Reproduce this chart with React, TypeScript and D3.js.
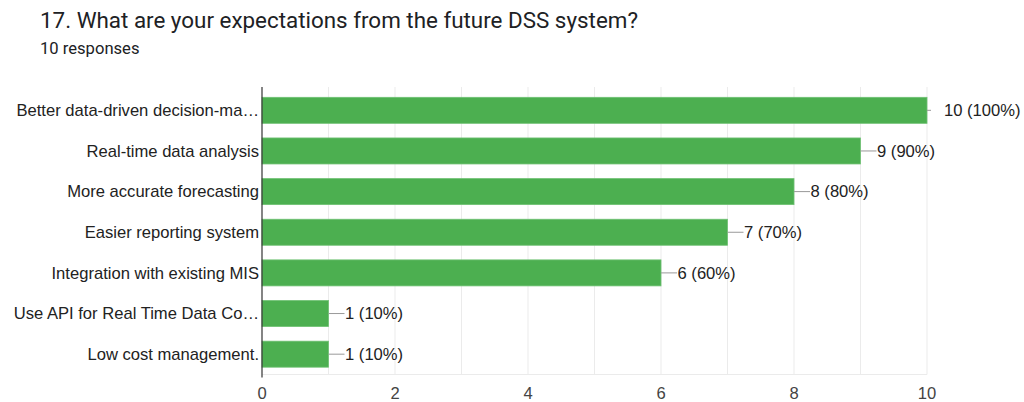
import React from "react";
import * as d3 from "d3";

const categories = [
  "Better data-driven decision-ma…",
  "Real-time data analysis",
  "More accurate forecasting",
  "Easier reporting system",
  "Integration with existing MIS",
  "Use API for Real Time Data Co…",
  "Low cost management.",
];
const counts = [10, 9, 8, 7, 6, 1, 1];
const percents = ["100%", "90%", "80%", "70%", "60%", "10%", "10%"];
const xTicks = [0, 2, 4, 6, 8, 10];
const gridValues = [1, 2, 3, 4, 5, 6, 7, 8, 9, 10];

export default function App() {
  const W = 1024, H = 402;
  const left = 262, right = 927, top = 90, bottom = 374.5;
  const x = d3.scaleLinear().domain([0, 10]).range([left, right]);
  const y = d3.scaleBand().domain(categories).range([top, bottom]).paddingInner(0.36).paddingOuter(0.18);
  const font = "Arial, 'Liberation Sans', sans-serif";
  const fs = 16.6;
  return (
    <svg width={W} height={H} style={{ position: "absolute", left: 0, top: 0, background: "#fff" }}>
      <text x={40} y={28} fontFamily="Roboto, sans-serif" fontSize={22.4} fill="#202124">
        17. What are your expectations from the future DSS system?
      </text>
      <text x={40} y={54} fontFamily="Roboto, sans-serif" fontSize={16.6} fill="#202124">
        10 responses
      </text>
      {gridValues.map((v) => (
        <line key={v} x1={x(v)} x2={x(v)} y1={top - 3} y2={bottom} stroke="#ebebeb" strokeWidth={1} />
      ))}
      <line x1={left} x2={right} y1={bottom} y2={bottom} stroke="#ebebeb" strokeWidth={1} />
      {categories.map((c, i) => {
        const yc = (y(c) as number) + y.bandwidth() / 2;
        const xe = x(counts[i]);
        const isMax = counts[i] === 10;
        return (
          <g key={c}>
            <rect x={x(0)} y={y(c)} width={xe - x(0)} height={y.bandwidth()} fill="#4caf50" stroke="#6fc173" strokeWidth={0.8} />
            <line x1={xe} x2={isMax ? xe + 4 : xe + 16} y1={yc} y2={yc} stroke="#999" strokeWidth={1} />
            <text x={isMax ? xe + 17 : xe + 16.5} y={yc} dy="0.35em" fontFamily={font} fontSize={fs} fill="#222">
              {counts[i]} ({percents[i]})
            </text>
            <text x={left - 3} y={yc} dy="0.35em" textAnchor="end" fontFamily={font} fontSize={fs} fill="#222">
              {c}
            </text>
          </g>
        );
      })}
      <line x1={left} x2={left} y1={top - 3} y2={bottom + 3} stroke="#333" strokeWidth={1.2} />
      {xTicks.map((t) => (
        <text key={t} x={x(t)} y={393} dy="0.35em" textAnchor="middle" fontFamily={font} fontSize={fs} fill="#444">
          {t}
        </text>
      ))}
    </svg>
  );
}
